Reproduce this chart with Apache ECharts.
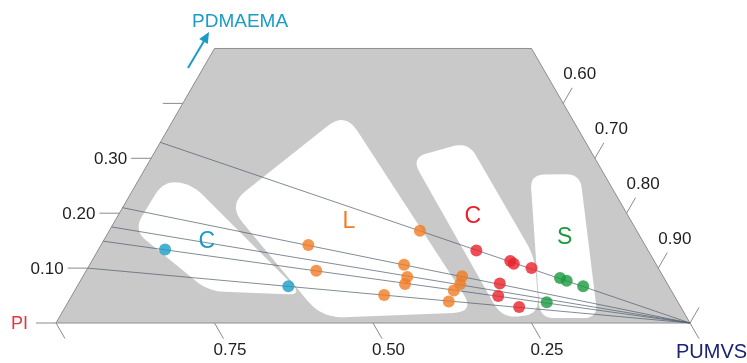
<!DOCTYPE html>
<html>
<head>
<meta charset="utf-8">
<script src="https://cdn.jsdelivr.net/npm/echarts@6/dist/echarts.min.js"></script>
<style>
  html, body { margin: 0; padding: 0; background: #ffffff; }
  #chart { width: 747px; height: 363px; }
</style>
</head>
<body>
<div id="chart"></div>
<script>
// Compositions are written as [PUMVS, PDMAEMA]; PI = 1 - PUMVS - PDMAEMA.
const cyanPoints = [[0.105, 0.134], [0.333, 0.067]];
const orangePoints = [
  [0.327, 0.142], [0.363, 0.095], [0.492, 0.051], [0.496, 0.106],
  [0.512, 0.084], [0.515, 0.071], [0.490, 0.168], [0.598, 0.085],
  [0.602, 0.071], [0.598, 0.059], [0.600, 0.039]
];
const redPoints = [
  [0.597, 0.132], [0.660, 0.113], [0.668, 0.108], [0.700, 0.100],
  [0.664, 0.072], [0.673, 0.049], [0.716, 0.029]
];
const greenPoints = [[0.754, 0.082], [0.767, 0.077], [0.798, 0.067], [0.755, 0.038]];

// Dilution lines towards the PUMVS corner, given by PDMAEMA/(PI+PDMAEMA)
const tieRatios = [0.329, 0.210, 0.175, 0.149, 0.100];

// Phase fields (corner compositions)
const regionCyanC = [[0.040, 0.259], [0.088, 0.253], [0.364, 0.051], [0.211, 0.058], [0.038, 0.169]];
const regionL = [[0.264, 0.384], [0.651, 0.020], [0.415, 0.009], [0.164, 0.215]];
const regionRedC = [[0.410, 0.301], [0.485, 0.330], [0.695, 0.120], [0.754, 0.016], [0.699, 0.009]];
const regionS = [[0.613, 0.270], [0.691, 0.271], [0.850, 0.009], [0.759, 0.009]];

const phaseNames = ['C', 'L', 'C', 'S'];
const phaseLabelPos = [[0.164, 0.148], [0.370, 0.184], [0.561, 0.193], [0.725, 0.155]];

// Axis ticks
const leftTicks = [0, 0.1, 0.2, 0.3, 0.4];          // PDMAEMA
const leftLabels = ['', '0.10', '0.20', '0.30', ''];
const bottomTicks = [1, 0.75, 0.5, 0.25, 0];         // PI
const bottomLabels = ['', '0.75', '0.50', '0.25', ''];
const rightTicks = [0.6, 0.7, 0.8, 0.9, 1.0];        // PUMVS
const rightLabels = ['0.60', '0.70', '0.80', '0.90', ''];

const topLimit = 0.5; // highest PDMAEMA fraction shown

const H = Math.sqrt(3) / 2;
function tern(c, b) { return [c + b / 2, b * H]; }

const FONT = '"Liberation Sans", Arial, Helvetica, sans-serif';
const COL = { cyan: '#1a9cc6', orange: '#f07c24', red: '#e8222c', green: '#1c9a3e' };

function roundedPoly(P, r, steps) {
  const out = [];
  const n = P.length;
  for (let i = 0; i < n; i++) {
    const v = P[i], p = P[(i - 1 + n) % n], q = P[(i + 1) % n];
    const d1 = Math.hypot(p[0] - v[0], p[1] - v[1]);
    const d2 = Math.hypot(q[0] - v[0], q[1] - v[1]);
    const t1 = Math.min(r / d1, 0.5), t2 = Math.min(r / d2, 0.5);
    const a = [v[0] + (p[0] - v[0]) * t1, v[1] + (p[1] - v[1]) * t1];
    const b = [v[0] + (q[0] - v[0]) * t2, v[1] + (q[1] - v[1]) * t2];
    for (let k = 0; k <= steps; k++) {
      const t = k / steps, u = 1 - t;
      out.push([u * u * a[0] + 2 * u * t * v[0] + t * t * b[0],
                u * u * a[1] + 2 * u * t * v[1] + t * t * b[1]]);
    }
  }
  return out;
}

const chart = echarts.init(document.getElementById('chart'), null, { renderer: 'canvas' });

const anchor = [[0.5, 0.1]];

const option = {
  animation: false,
  backgroundColor: '#ffffff',
  grid: { left: 56, right: 57, top: 47, bottom: 40 },
  xAxis: { type: 'value', min: 0, max: 1, show: false },
  yAxis: { type: 'value', min: 0, max: 276 / 634, show: false },
  series: [
    // grey field
    {
      type: 'custom', silent: true, z: 1, data: anchor,
      renderItem(params, api) {
        const pts = [tern(0, 0), tern(1, 0), tern(1 - topLimit, topLimit), tern(0, topLimit)]
          .map(p => api.coord(p));
        return { type: 'polygon', shape: { points: pts },
          style: { fill: '#c9c9c9', stroke: '#8e8e8e', lineWidth: 1 } };
      }
    },
    // phase fields
    {
      type: 'custom', silent: true, z: 2, data: anchor,
      renderItem(params, api) {
        const regions = [regionCyanC, regionL, regionRedC, regionS];
        const radii = [16, 22, 16, 14];
        return {
          type: 'group',
          children: regions.map((reg, i) => ({
            type: 'polygon',
            shape: { points: roundedPoly(reg.map(p => api.coord(tern(p[0], p[1]))), radii[i], 10) },
            style: { fill: '#ffffff' }
          }))
        };
      }
    },
    // dilution lines
    {
      type: 'custom', silent: true, z: 3, data: anchor,
      renderItem(params, api) {
        const end = api.coord(tern(1, 0));
        return {
          type: 'group',
          children: tieRatios.map(r => {
            const s = api.coord(tern(0, r));
            return { type: 'line', shape: { x1: s[0], y1: s[1], x2: end[0], y2: end[1] },
              style: { stroke: 'rgba(80,95,110,0.8)', lineWidth: 0.9 } };
          })
        };
      }
    },
    // ticks and tick labels
    {
      type: 'custom', silent: true, z: 4, data: anchor,
      renderItem(params, api) {
        const kids = [];
        const tickStyle = { stroke: '#8a8a8a', lineWidth: 1 };
        const txt = (x, y, s, align) => ({
          type: 'text', x, y,
          style: { text: s, fill: '#1e1e1e', font: '17px ' + FONT, align, verticalAlign: 'middle' }
        });
        leftTicks.forEach((v, i) => {
          const p = api.coord(tern(0, v));
          kids.push({ type: 'line', shape: { x1: p[0], y1: p[1], x2: p[0] - 20, y2: p[1] }, style: tickStyle });
          if (leftLabels[i]) kids.push(txt(p[0] - 24, p[1] + 1, leftLabels[i], 'right'));
        });
        const dB = [0.5, 0.866];
        bottomTicks.forEach((v, i) => {
          const p = api.coord(tern(1 - v, 0));
          kids.push({ type: 'line', shape: { x1: p[0], y1: p[1], x2: p[0] + dB[0] * 18, y2: p[1] + dB[1] * 18 }, style: tickStyle });
          if (bottomLabels[i]) kids.push(txt(p[0] + dB[0] * 31, p[1] + dB[1] * 31, bottomLabels[i], 'center'));
        });
        const dR = [0.5, -0.866];
        rightTicks.forEach((v, i) => {
          const p = api.coord(tern(v, 1 - v));
          kids.push({ type: 'line', shape: { x1: p[0], y1: p[1], x2: p[0] + dR[0] * 18, y2: p[1] + dR[1] * 18 }, style: tickStyle });
          if (rightLabels[i]) kids.push(txt(p[0] + dR[0] * 33, p[1] + dR[1] * 33, rightLabels[i], 'center'));
        });
        return { type: 'group', children: kids };
      }
    },
    // phase names
    {
      type: 'custom', silent: true, z: 5, data: anchor,
      renderItem(params, api) {
        const cols = [COL.cyan, COL.orange, COL.red, COL.green];
        return {
          type: 'group',
          children: phaseNames.map((s, i) => {
            const p = api.coord(tern(phaseLabelPos[i][0], phaseLabelPos[i][1]));
            return { type: 'text', x: p[0], y: p[1],
              style: { text: s, fill: cols[i], font: '23px ' + FONT, align: 'center', verticalAlign: 'middle' } };
          })
        };
      }
    },
    { type: 'scatter', z: 6, symbolSize: 12, itemStyle: { color: COL.cyan },
      data: cyanPoints.map(p => tern(p[0], p[1])) },
    { type: 'scatter', z: 6, symbolSize: 12, itemStyle: { color: COL.orange },
      data: orangePoints.map(p => tern(p[0], p[1])) },
    { type: 'scatter', z: 6, symbolSize: 12, itemStyle: { color: COL.red },
      data: redPoints.map(p => tern(p[0], p[1])) },
    { type: 'scatter', z: 6, symbolSize: 12, itemStyle: { color: COL.green },
      data: greenPoints.map(p => tern(p[0], p[1])) }
  ],
  graphic: [
    { type: 'text', left: 192, top: 12,
      style: { text: 'PDMAEMA', fill: COL.cyan, font: '19px ' + FONT } },
    { type: 'line', shape: { x1: 188, y1: 68, x2: 204, y2: 41 },
      style: { stroke: COL.cyan, lineWidth: 2 } },
    { type: 'polygon', shape: { points: [[209, 32], [207.8, 44.0], [199.2, 39.0]] },
      style: { fill: COL.cyan } },
    { type: 'text', right: 747 - 28, top: 315,
      style: { text: 'PI', fill: '#e8343f', font: '18px ' + FONT } },
    { type: 'text', left: 676, top: 342,
      style: { text: 'PUMVS', fill: '#1b2375', font: '20px ' + FONT } }
  ]
};

chart.setOption(option);
</script>
</body>
</html>
